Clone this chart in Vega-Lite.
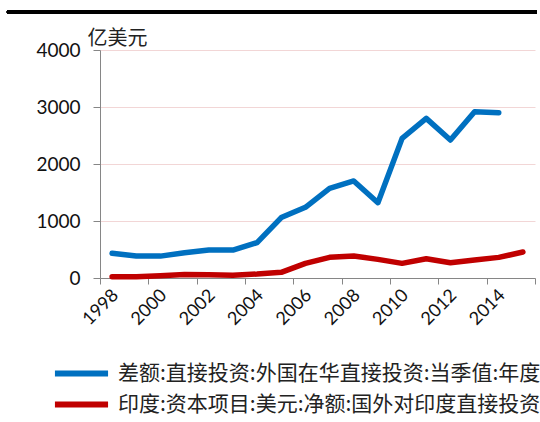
{
  "$schema": "https://vega.github.io/schema/vega-lite/v6.json",
  "width": 435,
  "height": 228,
  "autosize": {"type": "none"},
  "padding": {"left": 100, "top": 50, "right": 5, "bottom": 144},
  "background": "white",
  "config": {"view": {"stroke": null}, "font": "Lato"},
  "data": {
    "values": [
      {"year": 1998, "series": "差额:直接投资:外国在华直接投资:当季值:年度", "value": 433},
      {"year": 1999, "series": "差额:直接投资:外国在华直接投资:当季值:年度", "value": 386},
      {"year": 2000, "series": "差额:直接投资:外国在华直接投资:当季值:年度", "value": 384},
      {"year": 2001, "series": "差额:直接投资:外国在华直接投资:当季值:年度", "value": 444},
      {"year": 2002, "series": "差额:直接投资:外国在华直接投资:当季值:年度", "value": 491},
      {"year": 2003, "series": "差额:直接投资:外国在华直接投资:当季值:年度", "value": 491},
      {"year": 2004, "series": "差额:直接投资:外国在华直接投资:当季值:年度", "value": 620},
      {"year": 2005, "series": "差额:直接投资:外国在华直接投资:当季值:年度", "value": 1060},
      {"year": 2006, "series": "差额:直接投资:外国在华直接投资:当季值:年度", "value": 1240},
      {"year": 2007, "series": "差额:直接投资:外国在华直接投资:当季值:年度", "value": 1573},
      {"year": 2008, "series": "差额:直接投资:外国在华直接投资:当季值:年度", "value": 1702},
      {"year": 2009, "series": "差额:直接投资:外国在华直接投资:当季值:年度", "value": 1321},
      {"year": 2010, "series": "差额:直接投资:外国在华直接投资:当季值:年度", "value": 2450},
      {"year": 2011, "series": "差额:直接投资:外国在华直接投资:当季值:年度", "value": 2801},
      {"year": 2012, "series": "差额:直接投资:外国在华直接投资:当季值:年度", "value": 2421},
      {"year": 2013, "series": "差额:直接投资:外国在华直接投资:当季值:年度", "value": 2918},
      {"year": 2014, "series": "差额:直接投资:外国在华直接投资:当季值:年度", "value": 2900},
      {"year": 1998, "series": "印度:资本项目:美元:净额:国外对印度直接投资", "value": 23},
      {"year": 1999, "series": "印度:资本项目:美元:净额:国外对印度直接投资", "value": 21},
      {"year": 2000, "series": "印度:资本项目:美元:净额:国外对印度直接投资", "value": 40},
      {"year": 2001, "series": "印度:资本项目:美元:净额:国外对印度直接投资", "value": 62},
      {"year": 2002, "series": "印度:资本项目:美元:净额:国外对印度直接投资", "value": 55},
      {"year": 2003, "series": "印度:资本项目:美元:净额:国外对印度直接投资", "value": 50},
      {"year": 2004, "series": "印度:资本项目:美元:净额:国外对印度直接投资", "value": 70},
      {"year": 2005, "series": "印度:资本项目:美元:净额:国外对印度直接投资", "value": 100},
      {"year": 2006, "series": "印度:资本项目:美元:净额:国外对印度直接投资", "value": 257},
      {"year": 2007, "series": "印度:资本项目:美元:净额:国外对印度直接投资", "value": 362},
      {"year": 2008, "series": "印度:资本项目:美元:净额:国外对印度直接投资", "value": 386},
      {"year": 2009, "series": "印度:资本项目:美元:净额:国外对印度直接投资", "value": 327},
      {"year": 2010, "series": "印度:资本项目:美元:净额:国外对印度直接投资", "value": 257},
      {"year": 2011, "series": "印度:资本项目:美元:净额:国外对印度直接投资", "value": 339},
      {"year": 2012, "series": "印度:资本项目:美元:净额:国外对印度直接投资", "value": 269},
      {"year": 2013, "series": "印度:资本项目:美元:净额:国外对印度直接投资", "value": 316},
      {"year": 2014, "series": "印度:资本项目:美元:净额:国外对印度直接投资", "value": 362},
      {"year": 2015, "series": "印度:资本项目:美元:净额:国外对印度直接投资", "value": 456}
    ]
  },
  "layer": [
    {
      "mark": {"type": "line", "strokeWidth": 5.5, "strokeCap": "round", "strokeJoin": "round"},
      "encoding": {
        "x": {
          "field": "year",
          "type": "quantitative",
          "scale": {"domain": [1997.5, 2015.5], "nice": false, "zero": false},
          "axis": {
            "title": null,
            "values": [1997.5, 1999.5, 2001.5, 2003.5, 2005.5, 2007.5, 2009.5, 2011.5, 2013.5, 2015.5],
            "labelExpr": "datum.value < 2015 ? '' + (datum.value + 0.5) : ''",
            "labelAngle": -45,
            "labelAlign": "right",
            "labelBaseline": "top",
            "labelOffset": 9,
            "labelPadding": 2,
            "labelFontSize": 18,
            "labelColor": "#111111",
            "labelFlush": false,
            "labelOverlap": false,
            "domainColor": "#868686",
            "tickColor": "#868686",
            "tickSize": 6,
            "grid": false
          }
        },
        "y": {
          "field": "value",
          "type": "quantitative",
          "scale": {"domain": [0, 4000], "nice": false},
          "axis": {
            "values": [0, 1000, 2000, 3000, 4000],
            "format": "d",
            "grid": true,
            "gridColor": "#F2D6D6",
            "domainColor": "#868686",
            "tickColor": "#868686",
            "tickSize": 7,
            "labelPadding": 13,
            "labelFontSize": 19,
            "labelColor": "#111111",
            "title": "亿美元",
            "titleAngle": 0,
            "titleAlign": "left",
            "titleBaseline": "bottom",
            "titleX": -13,
            "titleY": -2,
            "titleFont": "Noto Sans CJK SC",
            "titleFontSize": 20,
            "titleFontWeight": "normal",
            "titleColor": "#222222"
          }
        },
        "color": {
          "field": "series",
          "type": "nominal",
          "scale": {
            "domain": ["差额:直接投资:外国在华直接投资:当季值:年度", "印度:资本项目:美元:净额:国外对印度直接投资"],
            "range": ["#0070C0", "#C00000"]
          },
          "legend": {
            "orient": "none",
            "legendX": -37.5,
            "legendY": 304.5,
            "direction": "vertical",
            "title": null,
            "symbolType": "M-1.66,0H1.66",
            "symbolSize": 1024,
            "symbolStrokeWidth": 6,
            "labelFont": "Noto Sans CJK SC",
            "labelFontSize": 21,
            "labelColor": "#222222",
            "labelLimit": 0,
            "labelOffset": 17.5,
            "rowPadding": 0,
            "padding": 0
          }
        }
      }
    },
    {
      "mark": {"type": "rule", "color": "#000000", "strokeWidth": 2.3},
      "encoding": {
        "y": {"datum": 4667},
        "x": {"datum": 1993.65},
        "x2": {"datum": 2015.58}
      }
    }
  ]
}
